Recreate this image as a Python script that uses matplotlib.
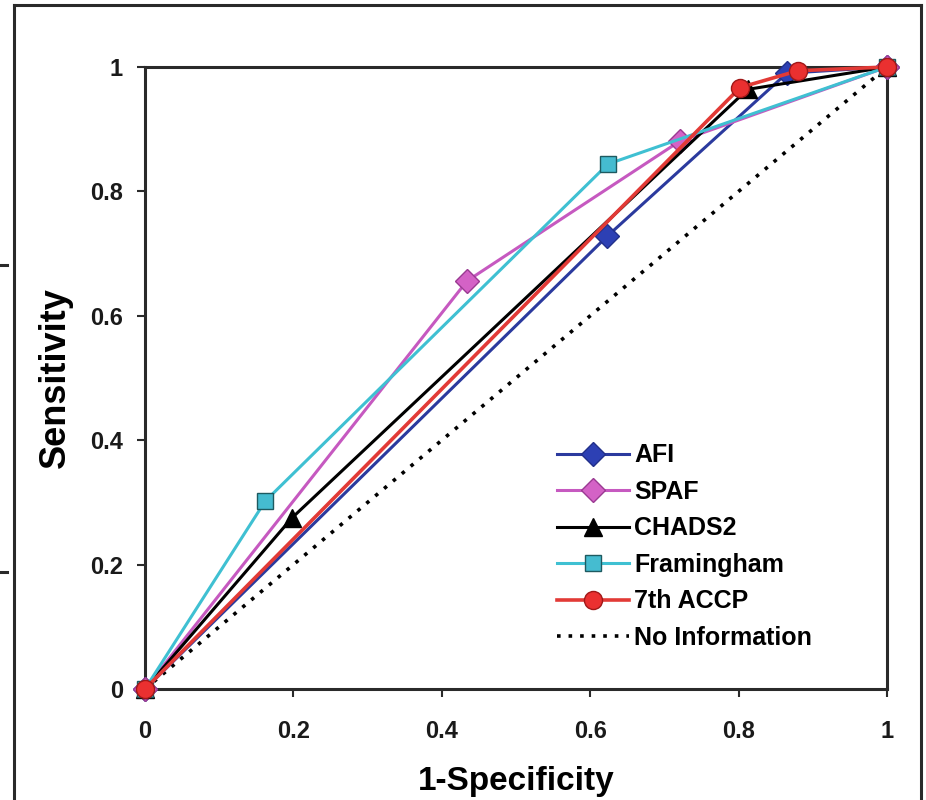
import matplotlib.pyplot as plt
from matplotlib.lines import Line2D

plt.rcParams['font.family'] = ['Liberation Sans', 'DejaVu Sans']

# ROC points
afi_x = [0, 0.623, 0.865, 1]
afi_y = [0, 0.728, 0.99, 1]
spaf_x = [0, 0.434, 0.721, 1]
spaf_y = [0, 0.656, 0.881, 1]
chads_x = [0, 0.198, 0.812, 1]
chads_y = [0, 0.275, 0.964, 1]
fram_x = [0, 0.162, 0.624, 1]
fram_y = [0, 0.302, 0.844, 1]
accp_x = [0, 0.802, 0.88, 1]
accp_y = [0, 0.967, 0.994, 1]
ref_x = [0, 1]
ref_y = [0, 1]

ticks = [0, 0.2, 0.4, 0.6, 0.8, 1]
tick_labels = ['0', '0.2', '0.4', '0.6', '0.8', '1']

fig = plt.figure(figsize=(9.26, 8.0), dpi=100)
ax = fig.add_axes([145/926, 111/800, 742/926, 622/800])

ax.plot(ref_x, ref_y, color='black', linestyle=(0, (1, 2.2)), linewidth=2.6,
        label='No Information', zorder=2, clip_on=False)
ax.plot(afi_x, afi_y, color='#2b3a9e', linewidth=2.2, marker='D', markersize=12,
        markerfacecolor='#2d40b4', markeredgecolor='#22308a', label='AFI', zorder=3, clip_on=False)
ax.plot(spaf_x, spaf_y, color='#c659c0', linewidth=2.2, marker='D', markersize=12,
        markerfacecolor='#d462c6', markeredgecolor='#9a3a92', label='SPAF', zorder=3, clip_on=False)
ax.plot(chads_x, chads_y, color='black', linewidth=2.2, marker='^', markersize=13,
        markerfacecolor='black', markeredgecolor='black', label='CHADS2', zorder=4, clip_on=False)
ax.plot(fram_x, fram_y, color='#3fc0d2', linewidth=2.2, marker='s', markersize=12,
        markerfacecolor='#45bcd0', markeredgecolor='#1e5a60', label='Framingham', zorder=4, clip_on=False)
ax.plot(accp_x, accp_y, color='#e23a36', linewidth=2.6, marker='o', markersize=13,
        markerfacecolor='#ea3030', markeredgecolor='#a01818', label='7th ACCP', zorder=5, clip_on=False)

ax.set_xlim(0, 1)
ax.set_ylim(0, 1)
ax.set_xticks(ticks)
ax.set_xticklabels(tick_labels)
ax.set_yticks(ticks)
ax.set_yticklabels(tick_labels)
for s in ax.spines.values():
    s.set_linewidth(2.2)
    s.set_color('#2a2a2a')
ax.tick_params(direction='out', length=6, width=1.5, color='#2a2a2a',
               labelsize=17, pad=10)
ax.tick_params(axis='x', pad=16)
for lab in ax.get_xticklabels() + ax.get_yticklabels():
    lab.set_fontweight('bold')
    lab.set_color('#1a1a1a')

ax.set_xlabel('1-Specificity', fontsize=24, fontweight='bold', labelpad=17)
ax.set_ylabel('Sensitivity', fontsize=26, fontweight='bold', labelpad=12)

handles, labels = ax.get_legend_handles_labels()
order = [1, 2, 3, 4, 5, 0]
leg = ax.legend([handles[i] for i in order], [labels[i] for i in order],
                loc='upper left', bbox_to_anchor=(0.555, 0.395), frameon=False,
                fontsize=18, handlelength=2.9, handletextpad=0.2, labelspacing=0.5,
                borderpad=0, borderaxespad=0)
for t in leg.get_texts():
    t.set_fontweight('bold')

# outer frame of the original figure
W, H = 926, 800
frame_kw = dict(color='#2a2a2a', linewidth=2.2, transform=fig.transFigure)
fig.add_artist(Line2D([14/W, 14/W], [0, 1 - 5/H], **frame_kw))
fig.add_artist(Line2D([14/W, 921/W], [1 - 5/H, 1 - 5/H], **frame_kw))
fig.add_artist(Line2D([921/W, 921/W], [0, 1 - 5/H], **frame_kw))
fig.add_artist(Line2D([0, 7/W], [1 - 265/H, 1 - 265/H], **frame_kw))
fig.add_artist(Line2D([0, 7/W], [1 - 572/H, 1 - 572/H], **frame_kw))

fig.savefig('out.png', dpi=100)
